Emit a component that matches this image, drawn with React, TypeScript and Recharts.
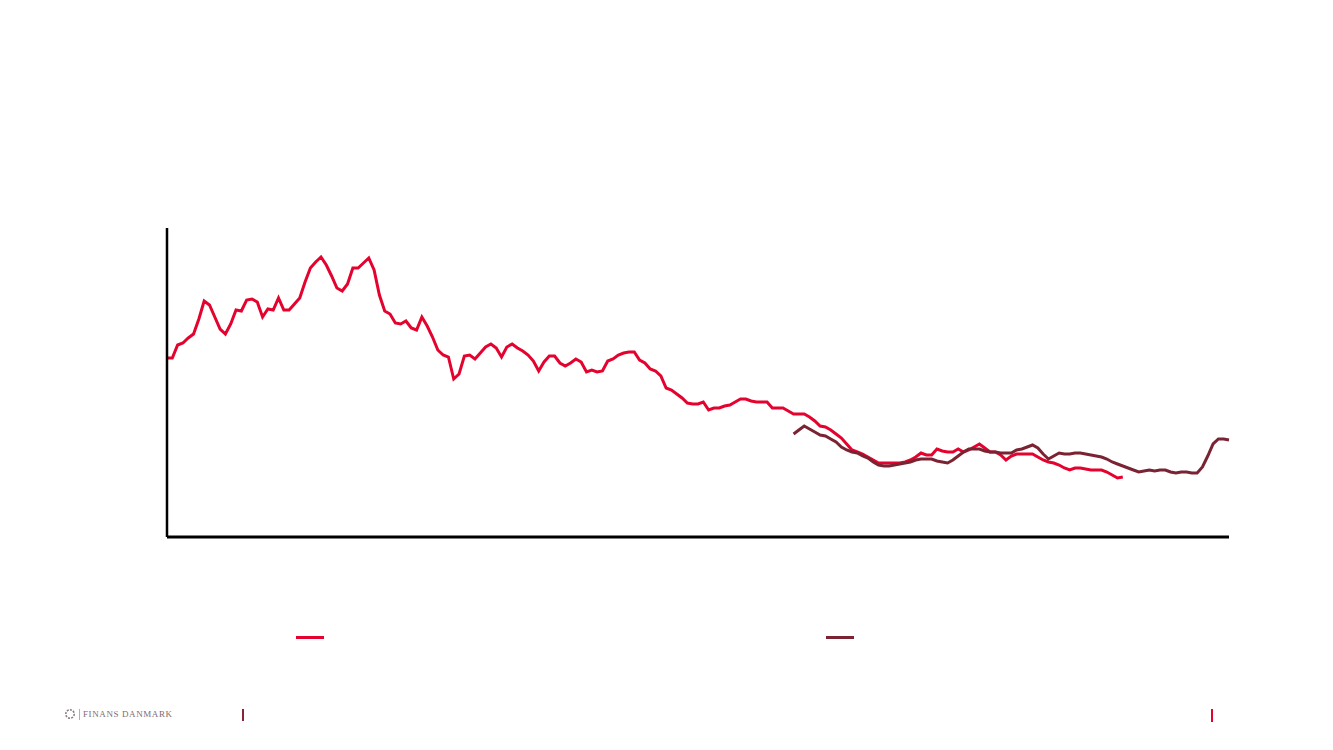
import { LineChart, Line, XAxis, YAxis } from 'recharts';

// monthly observations, index 0..200 (no visible tick labels in the source)
const redSeries = [
  179, 179, 192, 194, 199, 203, 218, 236, 232, 220, 208, 203, 213, 227, 226, 237, 238, 235, 220, 228,
  227, 239, 227, 227, 233, 239, 255, 269, 275, 280, 272, 261, 249, 246, 253, 269, 269, 274, 279, 267,
  242, 226, 223, 214, 213, 216, 209, 207, 220, 211, 200, 187, 182, 180, 158, 163, 181, 182, 178, 184,
  190, 193, 189, 180, 190, 193, 189, 186, 182, 176, 166, 175, 181, 181, 174, 171, 174, 178, 175, 165,
  167, 165, 166, 176, 178, 182, 184, 185, 185, 177, 174, 168, 166, 161, 149, 147, 143, 139, 134, 133,
  133, 135, 127, 129, 129, 131, 132, 135, 138, 138, 136, 135, 135, 135, 129, 129, 129, 126, 123, 123,
  123, 120, 116, 111, 110, 107, 103, 99, 93, 87, 85, 83, 80, 77, 74, 74, 74, 74, 74, 75,
  77, 80, 84, 82, 82, 88, 86, 85, 85, 88, 85, 87, 90, 93, 89, 85, 85, 82, 77, 81,
  83, 83, 83, 83, 80, 77, 75, 74, 72, 69, 67, 69, 69, 68, 67, 67, 67, 65, 62, 59,
  60,
];

const darkStart = 118;
const darkSeries = [
  103, 107, 111, 108, 105, 102, 101, 98, 95, 90, 87, 85, 84, 81, 79, 75, 72, 71, 71, 72,
  73, 74, 75, 77, 78, 78, 78, 76, 75, 74, 77, 81, 85, 88, 88, 88, 86, 85, 85, 84,
  84, 84, 87, 88, 90, 92, 89, 83, 78, 81, 84, 83, 83, 84, 84, 83, 82, 81, 80, 78,
  75, 73, 71, 69, 67, 65, 66, 67, 66, 67, 67, 65, 64, 65, 65, 64, 64, 70, 81, 93,
  98, 98, 97,
];

const seriesNames = ['Serie 1', 'Serie 2'];
const RED = '#e4032e';
const DARK = '#7a2333';

const total = darkStart + darkSeries.length;
const data = Array.from({ length: total }, (_, i) => ({
  i,
  a: i < redSeries.length ? redSeries[i] : null,
  b: i >= darkStart ? darkSeries[i - darkStart] : null,
}));

export default function App() {
  return (
    <div style={{ position: 'absolute', left: 0, top: 0, width: 1333, height: 750, background: '#fff' }}>
      <LineChart width={1333} height={750} data={data} margin={{ top: 228, right: 104, bottom: 212, left: 166 }}>
        <XAxis dataKey="i" type="number" domain={[0, total - 1]} height={1} tick={false} tickLine={false}
          axisLine={{ stroke: '#000', strokeWidth: 3 }} />
        <YAxis domain={[0, 309]} width={1} tick={false} tickLine={false} axisLine={{ stroke: '#000', strokeWidth: 2.5 }} />
        <Line type="linear" dataKey="a" name={seriesNames[0]} stroke={RED} strokeWidth={3} dot={false} isAnimationActive={false} />
        <Line type="linear" dataKey="b" name={seriesNames[1]} stroke={DARK} strokeWidth={3} dot={false} isAnimationActive={false} />
      </LineChart>

      {/* legend swatches (no label text visible in the source) */}
      <span style={{ position: 'absolute', left: 296, top: 636, width: 28, height: 3, background: RED }} title={seriesNames[0]} />
      <span style={{ position: 'absolute', left: 826, top: 636, width: 28, height: 3, background: DARK }} title={seriesNames[1]} />

      <div style={{ position: 'absolute', left: 64, top: 707, display: 'flex', alignItems: 'center', height: 14 }}>
        <svg width={12} height={12} viewBox="0 0 12 12">
          <circle cx={6} cy={6} r={4.2} fill="none" stroke="#8a7d83" strokeWidth={1.6} strokeDasharray="2 1.2" />
        </svg>
        <span style={{ width: 1, height: 11, background: '#b8adb2', margin: '0 3px 0 3px' }} />
        <span style={{ fontFamily: '"Liberation Serif", serif', fontSize: 9, letterSpacing: 0.6, color: '#7e6b74' }}>
          FINANS DANMARK
        </span>
      </div>
      <div style={{ position: 'absolute', left: 242, top: 709, width: 1.5, height: 12, background: '#8b2236' }} />
      <div style={{ position: 'absolute', left: 1211, top: 709, width: 1.5, height: 13, background: RED }} />
    </div>
  );
}
